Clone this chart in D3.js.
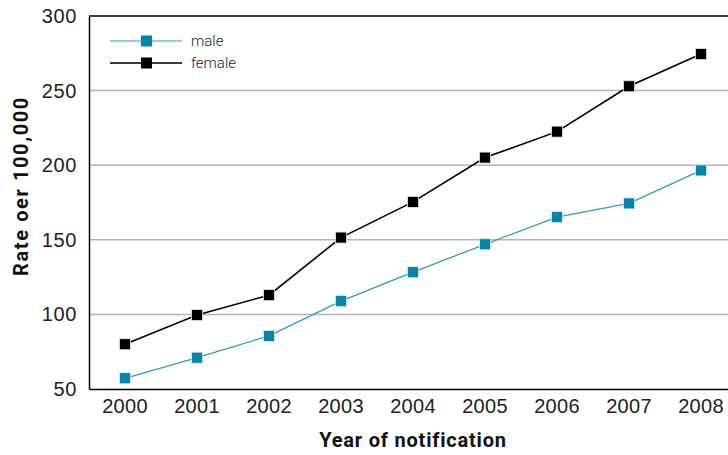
<!DOCTYPE html>
<html>
<head>
<meta charset="utf-8">
<script src="https://cdn.jsdelivr.net/npm/d3@7"></script>
<style>
  body { margin: 0; background: #fff; }
  svg { display: block; font-family: Roboto, "DejaVu Sans", sans-serif; }
</style>
</head>
<body>
<svg id="chart" width="728" height="455"></svg>
<script>
const years = [2000, 2001, 2002, 2003, 2004, 2005, 2006, 2007, 2008];
const male = [57.2, 71, 85.6, 108.9, 128.3, 147, 165.2, 174.4, 196.5];
const female = [80, 99.6, 112.9, 151.5, 175.4, 205.1, 222.5, 252.9, 274.5];
const yTicks = [50, 100, 150, 200, 250, 300];
const seriesNames = ["male", "female"];

const svg = d3.select("#chart");
const margin = { top: 16, left: 89 };
const plotW = 648, plotH = 373;

const x = d3.scaleBand()
  .domain(years)
  .range([0, plotW])
  .padding(0);

const y = d3.scaleLinear()
  .domain([50, 300])
  .range([plotH, 0]);

const g = svg.append("g")
  .attr("transform", `translate(${margin.left},${margin.top})`);

// gridlines
g.append("g")
  .selectAll("line")
  .data(yTicks.filter(d => d > 50 && d < 300))
  .join("line")
  .attr("x1", 0).attr("x2", plotW)
  .attr("y1", d => y(d)).attr("y2", d => y(d))
  .attr("stroke", "#b4b4b4")
  .attr("stroke-width", 1.5);

// top border
g.append("line")
  .attr("x1", 0).attr("x2", plotW)
  .attr("y1", 0).attr("y2", 0)
  .attr("stroke", "#000").attr("stroke-width", 1.5);

// y axis
const yAxis = g.append("g")
  .call(d3.axisLeft(y).tickValues(yTicks).tickSize(0).tickPadding(12));
yAxis.select(".domain").attr("stroke", "#000").attr("stroke-width", 1.5);
yAxis.selectAll("text")
  .style("font-size", "20px")
  .style("font-weight", 300)
  .style("letter-spacing", "0.6px")
  .attr("fill", "#222");

// x axis
const xAxis = g.append("g")
  .attr("transform", `translate(0,${plotH})`)
  .call(d3.axisBottom(x).tickSize(0).tickPadding(10));
xAxis.select(".domain").attr("stroke", "#000").attr("stroke-width", 1.5);
xAxis.selectAll("text")
  .style("font-size", "20px")
  .style("font-weight", 300)
  .style("letter-spacing", "0.3px")
  .attr("fill", "#222");

// axis titles
svg.append("text")
  .attr("x", margin.left + plotW / 2)
  .attr("y", 447)
  .attr("text-anchor", "middle")
  .style("font-size", "20px")
  .style("font-weight", "bold")
  .style("letter-spacing", "0.8px")
  .attr("fill", "#111")
  .text("Year of notification");

svg.append("text")
  .attr("transform", "translate(28,186) rotate(-90)")
  .attr("text-anchor", "middle")
  .style("font-size", "20px")
  .style("font-weight", "bold")
  .style("letter-spacing", "1.6px")
  .attr("fill", "#111")
  .text("Rate oer 100,000");

const cx = d => x(d) + x.bandwidth() / 2;
const styles = {
  male: { line: "#2a9fc2", fill: "#0088ab", data: male },
  female: { line: "#000", fill: "#000", data: female }
};

const line = d3.line()
  .x((d, i) => cx(years[i]))
  .y(d => y(d));

seriesNames.forEach(name => {
  const s = styles[name];
  g.append("path")
    .datum(s.data)
    .attr("fill", "none")
    .attr("stroke", s.line)
    .attr("stroke-width", name === "male" ? 1.3 : 1.6)
    .attr("d", line);
  g.append("g")
    .selectAll("rect")
    .data(s.data)
    .join("rect")
    .attr("x", (d, i) => cx(years[i]) - 5.5)
    .attr("y", d => y(d) - 5.5)
    .attr("width", 11)
    .attr("height", 11)
    .attr("fill", s.fill)
    .attr("stroke", "#e6e6e6")
    .attr("stroke-width", 0.8);
});

// legend
const legend = svg.append("g")
  .selectAll("g")
  .data(seriesNames)
  .join("g")
  .attr("transform", (d, i) => `translate(110,${41 + i * 22})`);

legend.append("line")
  .attr("x1", 0).attr("x2", 72)
  .attr("stroke", d => d === "male" ? "#6cc0d8" : "#000")
  .attr("stroke-width", 1.5);

legend.append("rect")
  .attr("x", 31).attr("y", -5.5)
  .attr("width", 11).attr("height", 11)
  .attr("fill", d => styles[d].fill);

legend.append("text")
  .attr("x", 81)
  .attr("dy", "0.32em")
  .style("font-size", "15px")
  .style("font-weight", 300)
  .attr("fill", "#222")
  .text(d => d);
</script>
</body>
</html>
